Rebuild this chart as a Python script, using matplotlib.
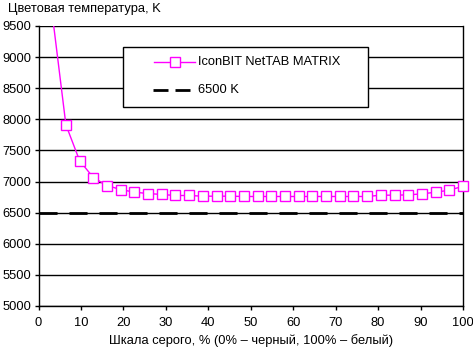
import numpy as np
import matplotlib.pyplot as plt
from matplotlib.lines import Line2D
from matplotlib.patches import Rectangle

plt.rcParams['font.family'] = ['Liberation Sans', 'DejaVu Sans']

# ============================================================
# 数据
# ============================================================
gray_pct = [100 * i / 31 for i in range(1, 32)]
temp_k = [9700, 7913, 7337, 7064, 6936, 6872, 6829, 6808, 6792, 6776,
          6776, 6765, 6765, 6765, 6760, 6760, 6760, 6760, 6760, 6760,
          6760, 6760, 6760, 6760, 6781, 6781, 6786, 6802, 6829, 6861, 6925]
ref_temp = 6500
x_ticks = list(range(0, 101, 10))
y_ticks = list(range(5000, 9501, 500))
y_min, y_max = 5000, 9500

W, H = 473, 349
FS = 9.3
MAGENTA = '#FF00FF'

fig = plt.figure(figsize=(W / 100, H / 100), dpi=100)
ax = fig.add_axes([38.5 / W, 1 - 306 / H, (463 - 38.5) / W, (306 - 26) / H])

for y in y_ticks:
    ax.axhline(y, color='black', lw=1.0, zorder=1)

ax.plot([0, 100], [ref_temp, ref_temp], color='black', lw=2.0,
        dashes=(6.5, 4.3), zorder=2)
ax.plot(gray_pct, temp_k, color=MAGENTA, lw=1.0, zorder=3)

# 标记：只画坐标范围内的点，不裁剪边缘
pts = [(x, t) for x, t in zip(gray_pct, temp_k) if y_min <= t <= y_max]
ax.plot([p[0] for p in pts], [p[1] for p in pts], ls='none', marker='s', ms=7,
        mfc='white', mec=MAGENTA, mew=1.0, zorder=4, clip_on=False)

ax.set_xlim(0, 100)
ax.set_ylim(y_min, y_max)
ax.set_xticks(x_ticks)
ax.set_yticks(y_ticks)
ax.tick_params(axis='both', direction='out', length=3, width=1, labelsize=FS, pad=2)
ax.tick_params(axis='x', pad=5)
for s in ['left', 'right', 'bottom']:
    ax.spines[s].set_linewidth(1.0)
ax.spines['top'].set_visible(False)

fig.text(8 / W, 1 - 9 / H, 'Цветовая температура, K', fontsize=FS, va='center', ha='left')
fig.text(251.5 / W, 1 - 341 / H, 'Шкала серого, % (0% – черный, 100% – белый)',
         fontsize=FS, va='center', ha='center')

# 图例（手工绘制，像素坐标）
def fx(px):
    return px / W


def fy(py):
    return 1 - py / H


fig.patches.append(Rectangle((fx(122.7), fy(106.7)), fx(368.3) - fx(122.7),
                             fy(46.7) - fy(106.7), transform=fig.transFigure,
                             facecolor='white', edgecolor='black', lw=1.0, zorder=5))
fig.add_artist(Line2D([fx(154), fx(195)], [fy(62), fy(62)], color=MAGENTA, lw=1.0,
                      transform=fig.transFigure, zorder=6))
fig.add_artist(Line2D([fx(174.5)], [fy(62)], color=MAGENTA, marker='s', ms=7,
                      mfc='white', mec=MAGENTA, mew=1.0, transform=fig.transFigure, zorder=7))
for x0, x1 in [(153, 168), (175, 190)]:
    fig.add_artist(Line2D([fx(x0), fx(x1)], [fy(90), fy(90)], color='black', lw=2.0,
                          solid_capstyle='butt', transform=fig.transFigure, zorder=6))
fig.text(fx(198), fy(62), 'IconBIT NetTAB MATRIX', fontsize=FS, va='center', ha='left', zorder=7)
fig.text(fx(198), fy(90), '6500 K', fontsize=FS, va='center', ha='left', zorder=7)

fig.savefig('out.png', dpi=100)
